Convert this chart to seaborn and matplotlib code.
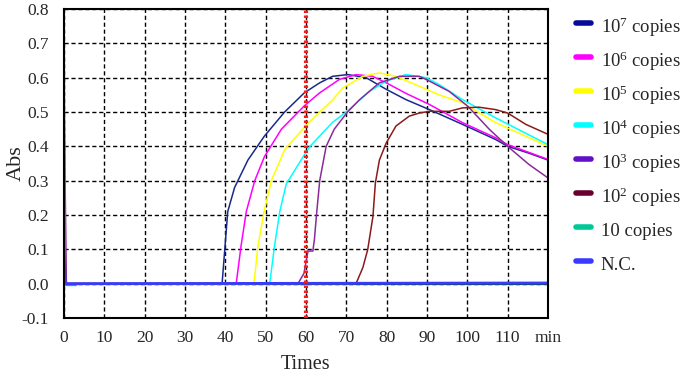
import matplotlib
matplotlib.use("Agg")
import matplotlib.pyplot as plt
import numpy as np
import pandas as pd
import seaborn as sns
from matplotlib.lines import Line2D

# series (time in min, absorbance)
t_1e7 = [0, 39.2, 39.8, 40.6, 42.3, 45.6, 49.7, 54.7, 59.6, 63.4, 66.6, 70.4, 74.9, 79.9, 84.8, 90.6, 98.8, 107, 110, 115.3, 120]
a_1e7 = [0, 0, 0.09, 0.21, 0.28, 0.36, 0.43, 0.50, 0.556, 0.585, 0.604, 0.609, 0.60, 0.566, 0.536, 0.507, 0.464, 0.42, 0.40, 0.38, 0.36]

t_1e6 = [0, 42.7, 43.9, 45.2, 47.3, 49.7, 53.9, 59.5, 63.4, 68.3, 72.4, 76.5, 79.9, 85, 90.6, 98.8, 107, 110, 120]
a_1e6 = [0, 0, 0.11, 0.21, 0.30, 0.37, 0.45, 0.517, 0.556, 0.595, 0.609, 0.604, 0.585, 0.553, 0.522, 0.469, 0.425, 0.405, 0.362]

t_1e5 = [0, 47.1, 48.1, 49.6, 51.4, 54.7, 59.5, 63.4, 66.6, 69.1, 74.1, 78.2, 82.3, 88.1, 93, 98.8, 107, 120]
a_1e5 = [0, 0, 0.11, 0.21, 0.30, 0.39, 0.454, 0.50, 0.535, 0.57, 0.604, 0.614, 0.604, 0.575, 0.55, 0.527, 0.469, 0.40]

t_1e4 = [0, 51, 52.2, 53.5, 55.1, 59.3, 61, 63.4, 66.6, 70, 75.7, 79.9, 84.8, 89.8, 93, 98.8, 107, 120]
a_1e4 = [0, 0, 0.11, 0.21, 0.29, 0.37, 0.40, 0.43, 0.47, 0.50, 0.56, 0.59, 0.609, 0.60, 0.58, 0.536, 0.483, 0.405]

t_1e3 = [0, 0.6, 58, 59.5, 60.5, 61.7, 62.1, 62.6, 63.4, 65, 67, 70.3, 73.3, 78.2, 83.2, 88.1, 90.6, 95.5, 100.1, 105.5, 110, 115.3, 120]
a_1e3 = [0.55, 0, 0, 0.03, 0.095, 0.095, 0.13, 0.20, 0.30, 0.40, 0.45, 0.50, 0.536, 0.585, 0.604, 0.604, 0.59, 0.56, 0.517, 0.449, 0.40, 0.347, 0.308]

t_1e2 = [0, 72.4, 74.1, 75.3, 76.6, 77.2, 78.2, 79.9, 82.3, 85.6, 88.1, 90.6, 95.5, 98.8, 102.9, 107, 110, 114.5, 120]
a_1e2 = [0, 0, 0.047, 0.099, 0.196, 0.293, 0.36, 0.41, 0.459, 0.488, 0.497, 0.502, 0.502, 0.512, 0.514, 0.507, 0.497, 0.464, 0.435]

t_10 = [0, 0.3, 0.6, 3, 3.2, 120]
a_10 = [0.85, 0, -0.005, -0.005, 0, 0]

t_nc = [0, 0.3, 120]
a_nc = [0.1, 0, 0.002]

labels = [r"$\mathregular{10^7}$ copies", r"$\mathregular{10^6}$ copies", r"$\mathregular{10^5}$ copies",
          r"$\mathregular{10^4}$ copies", r"$\mathregular{10^3}$ copies", r"$\mathregular{10^2}$ copies",
          "10 copies", "N.C."]
line_colors = ["#1a2a8c", "#ff00ff", "#ffff00", "#00ffff", "#8b2a9b", "#8b1a1a", "#00c090", "#3a3aff"]
legend_colors = ["#0a0a9a", "#ff00ff", "#ffff00", "#00ffff", "#6010c8", "#6a0030", "#00c896", "#3a3aff"]

series = [(t_1e7, a_1e7), (t_1e6, a_1e6), (t_1e5, a_1e5), (t_1e4, a_1e4),
          (t_1e3, a_1e3), (t_1e2, a_1e2), (t_10, a_10), (t_nc, a_nc)]

rows = []
for lab, (tt, aa) in zip(labels, series):
    for x, y in zip(tt, aa):
        rows.append({"time": x, "abs": y, "sample": lab})
df = pd.DataFrame(rows)

sns.set_style("white")
plt.rcParams["font.family"] = ["Liberation Serif", "DejaVu Serif"]
plt.rcParams["mathtext.fontset"] = "custom"
plt.rcParams["mathtext.rm"] = "Liberation Serif"
plt.rcParams["axes.unicode_minus"] = False

fig = plt.figure(figsize=(6.85, 3.77), dpi=100)
ax = fig.add_axes([0.0934, 0.1565, 0.7066, 0.8196])

ax.axhline(0, color="black", lw=1.5, zorder=1.5)
sns.lineplot(data=df, x="time", y="abs", hue="sample", hue_order=labels,
             palette=dict(zip(labels, line_colors)), estimator=None, sort=False,
             lw=1.1, legend=False, ax=ax)
ax.lines[-1].set_linewidth(2)

ax.axvline(60, color="#ff1a1a", lw=3, ls=(0, (0.6, 0.6)), zorder=5)

ax.set_xlim(0, 120)
ax.set_ylim(-0.1, 0.8)
ax.set_xticks(np.arange(0, 121, 10))
ax.set_xticklabels([str(v) for v in range(0, 120, 10)] + ["min"])
ax.set_yticks(np.arange(-0.1, 0.81, 0.1))
ax.set_yticklabels([f"{v:.1f}" for v in np.arange(-0.1, 0.81, 0.1)])
ax.tick_params(length=0, labelsize=12.5)
ax.tick_params(axis="y", pad=11)
ax.tick_params(axis="x", pad=9)
ax.grid(True, color="black", ls=(0, (3, 2)), lw=1)
for s in ax.spines.values():
    s.set_color("black")
    s.set_linewidth(1.5)

ax.set_xlabel("Times", fontsize=14.5)
ax.set_ylabel("Abs", fontsize=16)
ax.yaxis.set_label_coords(-0.078, 0.5)
ax.xaxis.set_label_coords(0.5, -0.12)

handles = [Line2D([], [], color=c, lw=4) for c in legend_colors]
ax.legend(handles, labels, loc="upper left", bbox_to_anchor=(1.022, 1.04), frameon=False,
          fontsize=13.5, handlelength=0.85, handleheight=1.85, handletextpad=0.5, labelspacing=0.36)

fig.savefig("out.png", dpi=100)
